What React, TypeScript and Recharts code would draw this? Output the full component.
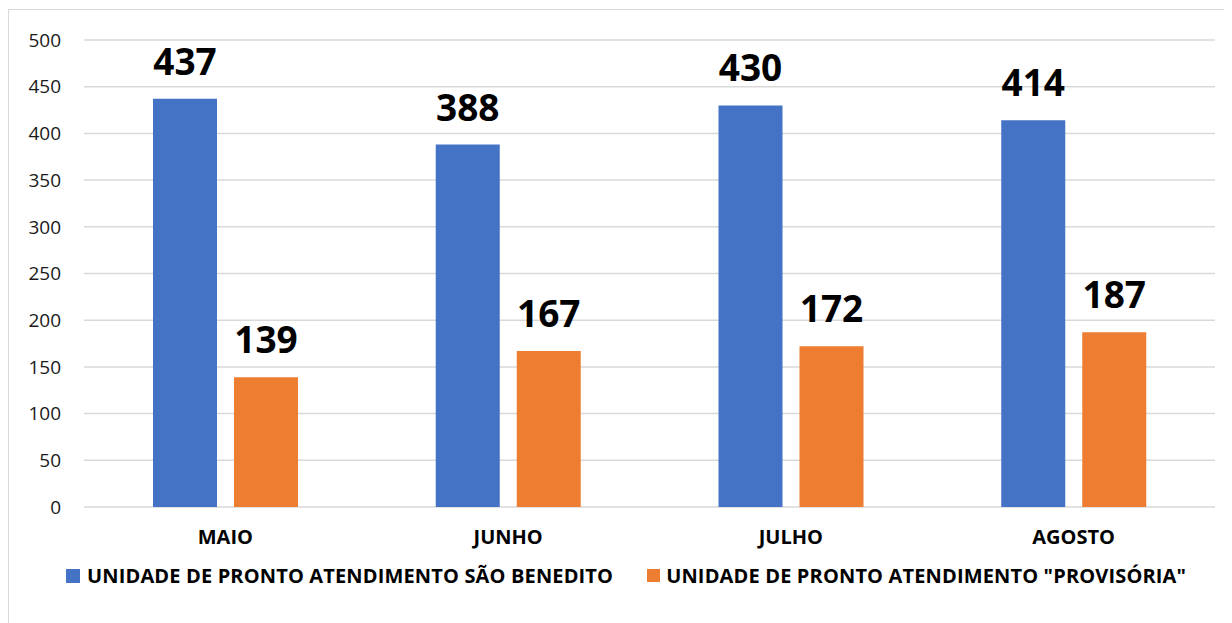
import React from "react";
import {
  BarChart,
  Bar,
  XAxis,
  YAxis,
  CartesianGrid,
  Legend,
  LabelList,
} from "recharts";

const months = ["MAIO", "JUNHO", "JULHO", "AGOSTO"];
const saoBenedito = [437, 388, 430, 414];
const provisoria = [139, 167, 172, 187];
const yTicks = [0, 50, 100, 150, 200, 250, 300, 350, 400, 450, 500];

const seriesNames = {
  a: "UNIDADE DE PRONTO ATENDIMENTO SÃO BENEDITO",
  b: 'UNIDADE DE PRONTO ATENDIMENTO "PROVISÓRIA"',
};

const BLUE = "#4472C4";
const ORANGE = "#ED7D31";
const FONT = "'Open Sans', sans-serif";

const data = months.map((m, i) => ({
  month: m,
  a: saoBenedito[i],
  b: provisoria[i],
}));

const LegendContent = () => (
  <div
    style={{
      display: "flex",
      alignItems: "center",
      paddingLeft: 57,
      fontFamily: FONT,
      fontWeight: 700,
      fontSize: 20,
      letterSpacing: 0.15,
      color: "#000",
      whiteSpace: "nowrap",
    }}
  >
    <span style={{ width: 14, height: 14, background: BLUE, display: "inline-block", marginRight: 7 }} />
    <span>{seriesNames.a}</span>
    <span style={{ width: 13, height: 13, background: ORANGE, display: "inline-block", marginLeft: 34, marginRight: 6 }} />
    <span>{seriesNames.b}</span>
  </div>
);

export default function App() {
  return (
    <div
      style={{
        position: "relative",
        top: 1,
        width: 1300,
        height: 700,
        border: "1px solid #d9d9d9",
        background: "#fff",
      }}
    >
      <BarChart
        width={1224}
        height={612}
        data={data}
        margin={{ top: 30, right: 18, left: 0, bottom: 0 }}
        barCategoryGap={69}
        barGap={17}
      >
        <CartesianGrid vertical={false} stroke="#d9d9d9" strokeWidth={1.5} />
        <XAxis
          dataKey="month"
          axisLine={false}
          tickLine={false}
          height={115}
          tickSize={0}
          tickMargin={23}
          tick={{ fill: "#000", fontSize: 20, fontWeight: 700, fontFamily: FONT }}
        />
        <YAxis
          width={75}
          domain={[0, 500]}
          ticks={yTicks}
          axisLine={false}
          tickLine={false}
          tickSize={0}
          tickMargin={23}
          tick={{ fill: "#1a1a1a", fontSize: 19, fontFamily: FONT }}
        />
        <Legend
          layout="horizontal"
          verticalAlign="middle"
          align="center"
          content={<LegendContent />}
          wrapperStyle={{ position: "absolute", top: 552, left: 0, width: 1224 }}
        />
        <Bar dataKey="a" name={seriesNames.a} fill={BLUE} isAnimationActive={false}>
          <LabelList
            dataKey="a"
            position="top"
            offset={24}
            style={{ fill: "#000", fontSize: 37, fontWeight: 700, fontFamily: FONT }}
          />
        </Bar>
        <Bar dataKey="b" name={seriesNames.b} fill={ORANGE} isAnimationActive={false}>
          <LabelList
            dataKey="b"
            position="top"
            offset={24}
            style={{ fill: "#000", fontSize: 37, fontWeight: 700, fontFamily: FONT }}
          />
        </Bar>
      </BarChart>
    </div>
  );
}
